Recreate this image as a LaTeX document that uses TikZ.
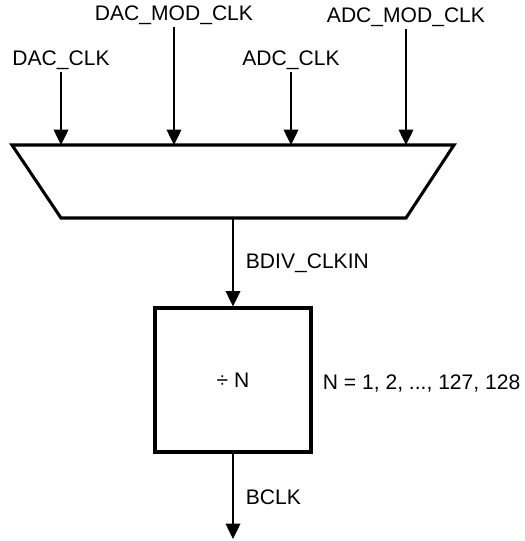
\documentclass[tikz,border=0pt]{standalone}
\usepackage{fontspec}
\setmainfont{Liberation Sans}
\usetikzlibrary{arrows.meta,positioning}

\begin{document}
\begin{tikzpicture}[
  x=0.75pt, y=-0.75pt,
  lbl/.style={font=\fontsize{15.8}{19}\selectfont, inner sep=2pt},
  sig/.style={line width=1pt, -{Triangle[width=11pt, length=11.5pt]}},
  muxline/.style={draw, line width=2.3pt, line join=miter},
  divbox/.style={draw, line width=2.3pt, minimum width=117pt, minimum height=108pt,
    font=\fontsize{15.8}{19}\selectfont}
]
\useasboundingbox (0,0) rectangle (524,541);
% selector outline
\coordinate (tl) at (12,145);
\coordinate (tr) at (454,145);
\coordinate (br) at (406,218);
\coordinate (bl) at (61,218);
\coordinate (selout) at (233,218);
\draw[muxline] (tl) -- (tr) -- (br) -- (bl) -- cycle;
\node[lbl] (dacclk) at (61,60) {DAC\_CLK};
\node[lbl] (dacmod) at (174,15) {DAC\_MOD\_CLK};
\node[lbl] (adcclk) at (291,60) {ADC\_CLK};
\node[lbl] (adcmod) at (406,17) {ADC\_MOD\_CLK};
\node[divbox] (div) at (233,380) {\textdiv\ N};
\node[lbl, anchor=west] (clkin) at (243,263) {BDIV\_CLKIN};
\node[lbl, anchor=west] (nrange) at (320,383) {N = 1, 2, ..., 127, 128};
\node[lbl, anchor=west] (bclk) at (243,497) {BCLK};
\coordinate (out) at (233,539);
\draw[sig] (dacclk.south) -- (dacclk.south |- tl);
\draw[sig] (dacmod.south) -- (dacmod.south |- tl);
\draw[sig] (adcclk.south) -- (adcclk.south |- tl);
\draw[sig] (adcmod.south) -- (adcmod.south |- tl);
\draw[sig] (selout) -- (div.north);
\draw[sig] (div.south) -- (out);
\end{tikzpicture}
\end{document}
